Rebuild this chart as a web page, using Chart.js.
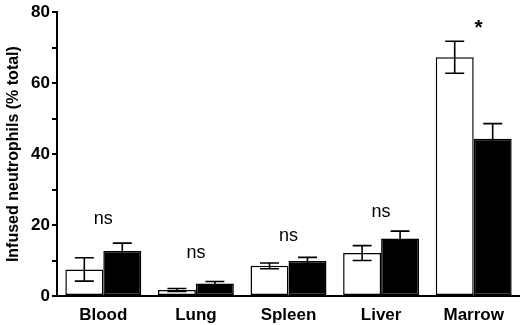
<!DOCTYPE html>
<html lang="en">
<head>
  <meta charset="UTF-8">
  <title>Infused neutrophils</title>
  <style>
    body { margin: 0; background: #fff; }
    canvas { display: block; }
  </style>
  <script src="https://cdn.jsdelivr.net/npm/chart.js"></script>
</head>
<body>
  <canvas id="chart" width="520" height="325"></canvas>

  <script>
    // data
    const organs = ['Blood', 'Lung', 'Spleen', 'Liver', 'Marrow'];
    const openValues = [7.5, 1.7, 8.5, 12.1, 67.3];
    const openErrors = [3.3, 0.4, 0.8, 2.1, 4.5];
    const filledValues = [12.7, 3.5, 9.9, 16.2, 44.3];
    const filledErrors = [2.2, 0.6, 1.0, 2.1, 4.3];
    // significance marks and the value they sit at
    const marks = ['ns', 'ns', 'ns', 'ns', '*'];
    const markLevels = [21.6, 12.2, 16.9, 23.8, 75.5];
    const yTicks = [0, 20, 40, 60, 80];

    const FONT = '"Liberation Sans", Arial, sans-serif';

    // draws error bars from each bar top, caps half a bar wide
    const errorBars = {
      id: 'errorBars',
      afterDatasetsDraw(chart) {
        const { ctx } = chart;
        const y = chart.scales.y;
        const errs = [openErrors, filledErrors];
        chart.data.datasets.forEach((ds, d) => {
          const meta = chart.getDatasetMeta(d);
          meta.data.forEach((bar, i) => {
            const v = ds.data[i];
            const e = errs[d][i];
            const yTop = y.getPixelForValue(v + e);
            const yBot = y.getPixelForValue(v - e);
            const half = bar.width / 4;
            ctx.save();
            ctx.strokeStyle = '#000';
            ctx.lineWidth = 1.6;
            ctx.beginPath();
            ctx.moveTo(bar.x, yTop);
            ctx.lineTo(bar.x, yBot);
            ctx.moveTo(bar.x - half, yTop);
            ctx.lineTo(bar.x + half, yTop);
            ctx.moveTo(bar.x - half, yBot);
            ctx.lineTo(bar.x + half, yBot);
            ctx.stroke();
            ctx.restore();
          });
        });
      }
    };

    // "ns" / "*" labels above each group
    const sigMarks = {
      id: 'sigMarks',
      afterDraw(chart) {
        const { ctx } = chart;
        const x = chart.scales.x, y = chart.scales.y;
        ctx.save();
        ctx.fillStyle = '#000';
        ctx.textAlign = 'center';
        ctx.textBaseline = 'middle';
        marks.forEach((m, i) => {
          ctx.font = m === '*' ? 'bold 21px ' + FONT : '18px ' + FONT;
          const dx = m === '*' ? 5 : 0;
          ctx.fillText(m, x.getPixelForValue(i) + dx, y.getPixelForValue(markLevels[i]));
        });
        ctx.restore();
      }
    };

    new Chart(document.getElementById('chart'), {
      type: 'bar',
      data: {
        labels: organs,
        datasets: [
          {
            data: openValues,
            backgroundColor: '#fff',
            borderColor: '#000',
            borderWidth: 1.5,
            borderSkipped: false
          },
          {
            data: filledValues,
            backgroundColor: '#000',
            borderColor: '#000',
            borderWidth: 1.5,
            borderSkipped: false
          }
        ]
      },
      options: {
        responsive: false,
        animation: false,
        events: [],
        layout: { padding: { top: 7, right: 0, left: 0, bottom: 0 } },
        plugins: {
          legend: { display: false },
          tooltip: { enabled: false }
        },
        datasets: {
          bar: { categoryPercentage: 0.82, barPercentage: 1.0 }
        },
        scales: {
          x: {
            grid: { display: false, drawTicks: false },
            border: { display: true, color: '#000', width: 2 },
            ticks: {
              color: '#000',
              padding: 9,
              font: { family: FONT, size: 17, weight: 'bold' }
            },
            afterFit(scale) { scale.height = 29; }
          },
          y: {
            min: 0,
            max: 80,
            grid: {
              display: true,
              drawOnChartArea: false,
              drawTicks: true,
              tickLength: 5,
              tickColor: '#000',
              lineWidth: 2
            },
            border: { display: true, color: '#000', width: 2 },
            ticks: {
              stepSize: 10,
              color: '#000',
              padding: 2,
              font: { family: FONT, size: 17, weight: 'bold' },
              callback: v => (yTicks.includes(v) ? String(v) : '')
            },
            title: {
              display: true,
              text: 'Infused neutrophils (% total)',
              color: '#000',
              padding: { top: 4, bottom: 0 },
              font: { family: FONT, size: 16, weight: 'bold' }
            },
            afterFit(scale) { scale.width = 57; }
          }
        }
      },
      plugins: [errorBars, sigMarks]
    });
  </script>
</body>
</html>
